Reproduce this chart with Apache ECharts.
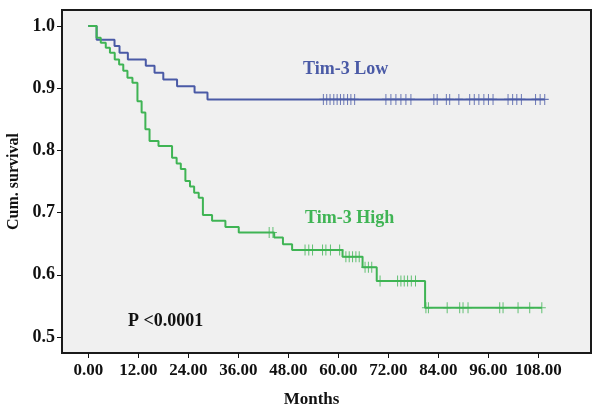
<!DOCTYPE html>
<html>
<head>
<meta charset="utf-8">
<script src="https://cdn.jsdelivr.net/npm/echarts@6/dist/echarts.min.js"></script>
<style>html,body{margin:0;padding:0;background:#fff;}#c{width:600px;height:415px;}</style>
</head>
<body>
<div id="c"></div>
<script>
// Tim-3 Low group: event times (months) and cumulative survival after each drop
const lowTimes = [0, 2.0, 6.3, 7.5, 9.5, 13.8, 15.9, 18.0, 21.3, 25.5, 28.6];
const lowSurv  = [1.0, 0.978, 0.968, 0.957, 0.946, 0.936, 0.925, 0.914, 0.903, 0.893, 0.882];
const lowCensor = [56.4, 57.2, 58.0, 58.9, 59.7, 60.5, 61.3, 62.2, 63.0, 63.9,
  71.4, 72.6, 73.8, 75.0, 76.2, 77.4, 82.9, 83.7, 85.9, 86.7, 88.9,
  91.5, 92.6, 93.7, 94.9, 96.0, 97.1, 100.7, 101.8, 102.8, 103.9, 107.3, 108.4, 109.5];

// Tim-3 High group
const highTimes = [0, 2.0, 3.0, 4.2, 5.2, 6.35, 7.4, 8.4, 9.4, 10.6, 11.8, 12.8, 13.7, 14.7, 16.85,
  20.1, 21.2, 22.2, 23.3, 24.4, 25.4, 26.5, 27.5, 29.7, 32.9, 36.1, 44.6, 46.7, 48.9, 61.0, 65.8, 69.2, 80.8];
const highSurv  = [1.0, 0.981, 0.973, 0.965, 0.957, 0.946, 0.938, 0.928, 0.917, 0.909, 0.879, 0.861, 0.834, 0.815, 0.807,
  0.788, 0.779, 0.770, 0.751, 0.742, 0.732, 0.724, 0.696, 0.687, 0.677, 0.668, 0.660, 0.649, 0.640, 0.629, 0.612, 0.590, 0.547];
const highCensor = [43.4, 44.3, 52.0, 52.9, 53.8, 56.2, 57.0, 58.1, 60.3, 61.8, 62.6, 63.4, 64.2, 65.0,
  66.4, 67.2, 68.0, 70.0, 74.2, 75.0, 75.8, 76.6, 77.5, 78.5, 81.0, 81.6, 86.1, 89.1, 89.9, 91.1,
  98.7, 99.5, 103.1, 105.9, 108.8];

const xTicks = [0, 12, 24, 36, 48, 60, 72, 84, 96, 108];
const yTicks = [0.5, 0.6, 0.7, 0.8, 0.9, 1.0];

const groupNames = ['Tim-3 Low', 'Tim-3 High'];
const pValueText = 'P <0.0001';

const BLUE = '#4a5aa6';
const GREEN = '#3fb454';
const FONT = '"Liberation Serif", "Times New Roman", serif';

function survAt(times, surv, t) {
  let s = surv[0];
  for (let i = 0; i < times.length; i++) { if (times[i] <= t) s = surv[i]; }
  return s;
}
function stepData(times, surv, censor) {
  const d = times.map((t, i) => [t, surv[i]]);
  const last = censor[censor.length - 1];
  d.push([last, survAt(times, surv, last)]);
  return d;
}
function censorData(times, surv, censor) {
  return censor.map(t => [t, survAt(times, surv, t)]);
}
const PLUS = 'path://M3.5,0h1v4.5h3.5v1h-3.5v4.5h-1v-4.5h-3.5v-1h3.5z';

const chart = echarts.init(document.getElementById('c'), null, {renderer: 'canvas'});
chart.setOption({
  animation: false,
  backgroundColor: '#ffffff',
  grid: {left: 62, top: 10, right: 9, bottom: 62, containLabel: false, outerBoundsMode: 'none',
    show: true, backgroundColor: '#f0f0f0', borderColor: '#1a1a1a', borderWidth: 2},
  xAxis: {
    type: 'value', min: -6.3, max: 120.6,
    name: 'Months', nameLocation: 'middle', nameGap: 38,
    nameTextStyle: {fontFamily: FONT, fontWeight: 'bold', fontSize: 17, color: '#111', padding: [0, 30, 0, 0]},
    axisLine: {show: false, onZero: false},
    splitLine: {show: false},
    axisTick: {show: true, inside: false, length: 5, customValues: xTicks, lineStyle: {color: '#111', width: 1}},
    axisLabel: {customValues: xTicks, margin: 9, fontFamily: FONT, fontWeight: 'bold', fontSize: 17, color: '#111',
      formatter: v => v.toFixed(2)}
  },
  yAxis: {
    type: 'value', min: 0.4742, max: 1.0258,
    name: 'Cum. survival', nameLocation: 'middle', nameGap: 32,
    nameTextStyle: {fontFamily: FONT, fontWeight: 'bold', fontSize: 16, color: '#111'},
    axisLine: {show: false, onZero: false},
    splitLine: {show: false},
    axisTick: {show: true, inside: false, length: 5, customValues: yTicks, lineStyle: {color: '#111', width: 1}},
    axisLabel: {customValues: yTicks, margin: 7, fontFamily: FONT, fontWeight: 'bold', fontSize: 18, color: '#111',
      formatter: v => v.toFixed(1)}
  },
  series: [
    {name: groupNames[0], type: 'line', step: 'end', showSymbol: false, data: stepData(lowTimes, lowSurv, lowCensor),
      lineStyle: {color: BLUE, width: 2}, z: 2},
    {name: groupNames[0] + ' censored', type: 'scatter', symbol: PLUS, symbolSize: [8, 11],
      itemStyle: {color: BLUE}, data: censorData(lowTimes, lowSurv, lowCensor), z: 3},
    {name: groupNames[1], type: 'line', step: 'end', showSymbol: false, data: stepData(highTimes, highSurv, highCensor),
      lineStyle: {color: GREEN, width: 2}, z: 4},
    {name: groupNames[1] + ' censored', type: 'scatter', symbol: PLUS, symbolSize: [8, 11],
      itemStyle: {color: GREEN}, data: censorData(highTimes, highSurv, highCensor), z: 5}
  ],
  graphic: [
    {type: 'text', left: 303, top: 60, z: 10, style: {text: groupNames[0], fill: BLUE, font: 'bold 18px ' + FONT}},
    {type: 'text', left: 305, top: 209, z: 10, style: {text: groupNames[1], fill: GREEN, font: 'bold 18px ' + FONT}},
    {type: 'text', left: 128, top: 312, z: 10, style: {text: pValueText, fill: '#111', font: 'bold 18px ' + FONT}}
  ]
});
</script>
</body>
</html>
